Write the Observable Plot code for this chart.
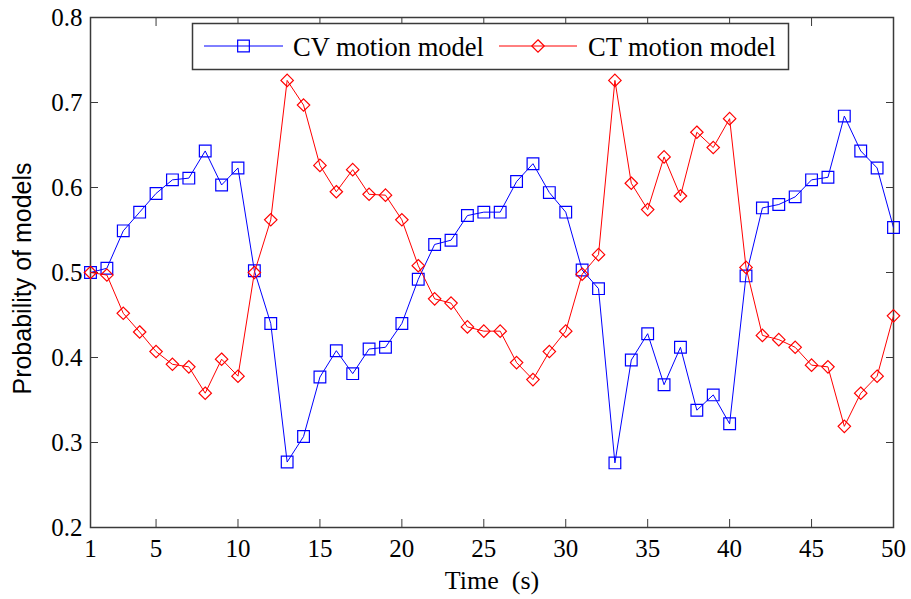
<!DOCTYPE html>
<html>
<head>
<meta charset="utf-8">
<script src="https://cdn.jsdelivr.net/npm/d3@7"></script>
<script src="https://cdn.jsdelivr.net/npm/@observablehq/plot@0.6"></script>
<style>
  html, body { margin: 0; padding: 0; background: #fff; }
  #chart svg { display: block; }
  #chart svg text { font-family: "Liberation Serif", "Times New Roman", serif; font-variant-numeric: normal; }
  #chart svg text.ylab { font-family: "Liberation Sans", Arial, sans-serif; }
</style>
</head>
<body>
<div id="chart"></div>
<script>
// ---- data ----
const time = [1,2,3,4,5,6,7,8,9,10,11,12,13,14,15,16,17,18,19,20,21,22,23,24,25,26,27,28,29,30,31,32,33,34,35,36,37,38,39,40,41,42,43,44,45,46,47,48,49,50];
const cvProb = [0.500,0.505,0.549,0.571,0.593,0.609,0.611,0.643,0.603,0.623,0.502,0.440,0.277,0.307,0.377,0.408,0.381,0.410,0.412,0.440,0.492,0.533,0.538,0.567,0.571,0.571,0.607,0.628,0.594,0.571,0.503,0.481,0.276,0.397,0.428,0.368,0.412,0.338,0.356,0.322,0.496,0.576,0.580,0.589,0.609,0.612,0.684,0.643,0.623,0.553];
const ctProb = [0.500,0.497,0.452,0.430,0.407,0.392,0.389,0.358,0.398,0.378,0.500,0.562,0.726,0.697,0.626,0.595,0.621,0.592,0.591,0.562,0.508,0.469,0.464,0.436,0.431,0.431,0.394,0.374,0.407,0.431,0.498,0.521,0.726,0.605,0.574,0.636,0.590,0.665,0.647,0.681,0.506,0.426,0.421,0.412,0.391,0.389,0.319,0.358,0.378,0.449];
const seriesNames = ["CV motion model", "CT motion model"];
const seriesColors = ["#0000ff", "#ff0000"];
const xTicks = [1,5,10,15,20,25,30,35,40,45,50];
const yTicks = [0.2,0.3,0.4,0.5,0.6,0.7,0.8];
const xLabel = "Time\u00a0\u00a0(s)";
const yLabel = "Probability of models";

const rows = time.map((t, i) => ({t, cv: cvProb[i], ct: ctProb[i]}));
const axisColor = "#3a3a3a";
const serif = "Liberation Serif";
const sans = "Liberation Sans";

const chart = Plot.plot({
  width: 911,
  height: 599,
  marginLeft: 90,
  marginRight: 18,
  marginTop: 17,
  marginBottom: 72,
  x: {domain: [1, 50]},
  y: {domain: [0.2, 0.8]},
  style: {fontFamily: serif, fontSize: "25px", color: "#000", background: "#fff"},
  marks: [
    Plot.axisX({ticks: xTicks, tickSize: -8, tickPadding: 20, tickFormat: d => String(d), label: null, stroke: axisColor, fill: "#000", fontSize: 25}),
    Plot.axisX({anchor: "top", ticks: xTicks, tickSize: -8, tickFormat: () => "", label: null, stroke: axisColor}),
    Plot.axisY({ticks: yTicks, tickSize: -8, tickPadding: 16, tickFormat: d3.format(".1f"), label: null, stroke: axisColor, fill: "#000", fontSize: 25}),
    Plot.axisY({anchor: "right", ticks: yTicks, tickSize: -8, tickFormat: () => "", label: null, stroke: axisColor}),
    Plot.frame({stroke: axisColor, strokeWidth: 1.5}),
    Plot.line(rows, {x: "t", y: "cv", stroke: seriesColors[0], strokeWidth: 1}),
    Plot.dot(rows, {x: "t", y: "cv", symbol: "square", r: 6.6, stroke: seriesColors[0], fill: "none", strokeWidth: 1.2}),
    Plot.line(rows, {x: "t", y: "ct", stroke: seriesColors[1], strokeWidth: 1}),
    Plot.dot(rows, {x: "t", y: "ct", symbol: "diamond2", r: 5.6, stroke: seriesColors[1], fill: "none", strokeWidth: 1.2}),
    Plot.text([xLabel], {frameAnchor: "bottom", dy: 61, lineAnchor: "bottom", textAnchor: "middle", fontSize: 26, fill: "#000"}),
    Plot.text([yLabel], {frameAnchor: "left", rotate: -90, dx: -60, dy: 6, lineAnchor: "bottom", textAnchor: "middle", fontSize: 25, fill: "#000"})
  ]
});
document.getElementById("chart").appendChild(chart);

const svg = d3.select(chart.tagName.toLowerCase() === "svg" ? chart : chart.querySelector("svg"));
svg.selectAll("text").filter(function() { return this.textContent === yLabel; }).classed("ylab", true);

// ---- legend (inside plot, top) ----
const lg = svg.append("g").attr("class", "legend");
lg.append("rect").attr("x", 192.5).attr("y", 23.5).attr("width", 596).attr("height", 46)
  .attr("fill", "#fff").attr("stroke", axisColor).attr("stroke-width", 1.5);
const items = [
  {x0: 204, x1: 283, tx: 293, symbol: d3.symbolSquare, size: Math.PI * 6.6 * 6.6},
  {x0: 499, x1: 577, tx: 588, symbol: d3.symbolDiamond2, size: Math.PI * 5.6 * 5.6}
];
items.forEach((it, i) => {
  lg.append("line").attr("x1", it.x0).attr("x2", it.x1).attr("y1", 46).attr("y2", 46)
    .attr("stroke", seriesColors[i]).attr("stroke-width", 1);
  lg.append("path").attr("d", d3.symbol(it.symbol, it.size)())
    .attr("transform", `translate(${(it.x0 + it.x1) / 2},46)`)
    .attr("fill", "none").attr("stroke", seriesColors[i]).attr("stroke-width", 1.2);
  lg.append("text").attr("x", it.tx).attr("y", 56)
    .attr("text-anchor", "start")
    .style("font-size", "26.5px").style("fill", "#000")
    .text(seriesNames[i]);
});
</script>
</body>
</html>
